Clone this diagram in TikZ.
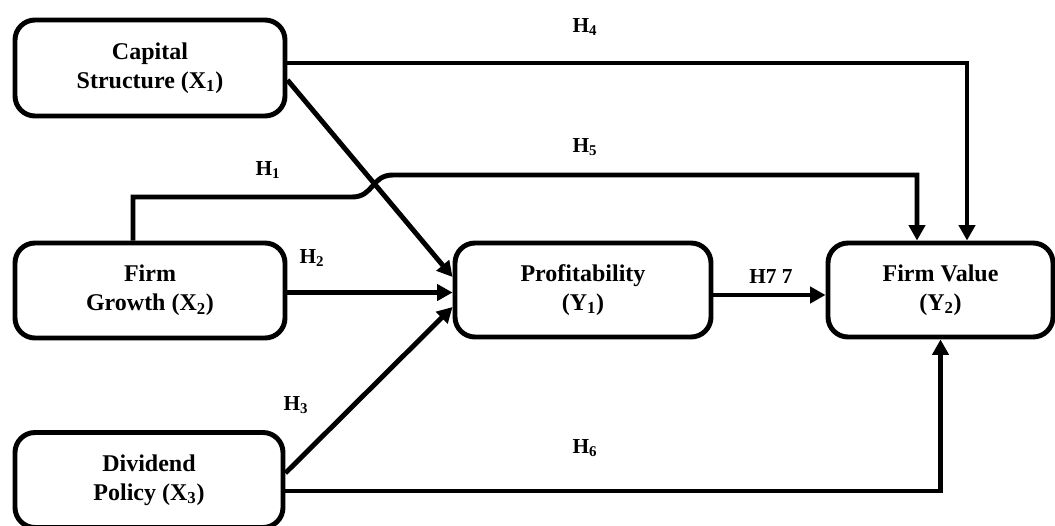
\documentclass[tikz,border=0pt]{standalone}
\usepackage{fontspec}
\setmainfont{Liberation Serif}
\usetikzlibrary{arrows.meta,calc}

\tikzset{every picture/.style={line width=0.75pt}}
\tikzset{
  varbox/.style={draw, line width=3.7pt, rounded corners=15pt, align=center,
    font=\bfseries\fontsize{18}{21.75}\selectfont, inner sep=0pt},
  pathline/.style={line width=3.7pt, -{Triangle[length=11.5pt,width=12pt]}},
  hyplabel/.style={font=\bfseries\fontsize{16}{19}\selectfont}
}

\begin{document}
\begin{tikzpicture}[x=0.75pt,y=0.75pt,yscale=-1,xscale=1]
\useasboundingbox (0,0) rectangle (1055,525);

%Shape: Rounded Rect [id:cap] 
\node [varbox, minimum width=202.5pt, minimum height=72pt] (cap) at (150,68) {Capital\\Structure (X\textsubscript{1})};
%Shape: Rounded Rect [id:grow] 
\node [varbox, minimum width=202.5pt, minimum height=71.25pt] (grow) at (150,290.5) {Firm\\Growth (X\textsubscript{2})};
%Shape: Rounded Rect [id:div] 
\node [varbox, minimum width=201pt, minimum height=71.25pt] (div) at (149,480) {Dividend\\Policy (X\textsubscript{3})};
%Shape: Rounded Rect [id:prof] 
\node [varbox, minimum width=192pt, minimum height=70.5pt] (prof) at (583,290) {Profitability\\(Y\textsubscript{1})};
%Shape: Rounded Rect [id:fv] 
\node [varbox, minimum width=168.75pt, minimum height=70.5pt] (fv) at (940.5,290) {Firm Value\\(Y\textsubscript{2})};

%Straight Lines [id:h1] 
\draw [pathline] ($(cap.east)+(0,12)$) -- ($(prof.west)+(0,-13)$) ;
%Straight Lines [id:h2] 
\draw [pathline] ($(grow.east)+(0,2)$) -- ($(prof.west)+(0,2.5)$) ;
%Straight Lines [id:h3] 
\draw [pathline] ($(div.east)+(0,-7)$) -- ($(prof.west)+(0,17)$) ;
%Straight Lines [id:h7] 
\draw [pathline] ($(prof.east)+(0,5)$) -- ($(fv.west)+(0,5)$) ;
%Straight Lines [id:h4] 
\draw [pathline] ($(cap.east)+(0,-5)$) -| ($(fv.north)+(26.5,0)$) ;
%Curve Lines [id:h5] 
\draw [pathline] ($(grow.north)+(-17,0)$) |- (352,197) .. controls (374,197) and (371,175) .. (393,175) -| ($(fv.north)+(-23.5,0)$) ;
%Straight Lines [id:h6] 
\draw [pathline] ($(div.east)+(0,11)$) -| (fv.south) ;

% Text Node
\node [hyplabel] (lh4) at (585,27) {H\textsubscript{4}};
% Text Node
\node [hyplabel] (lh5) at (585,147) {H\textsubscript{5}};
% Text Node
\node [hyplabel] (lh1) at (268,170) {H\textsubscript{1}};
% Text Node
\node [hyplabel] (lh2) at (312,258) {H\textsubscript{2}};
% Text Node
\node [hyplabel] (lh3) at (296,405) {H\textsubscript{3}};
% Text Node
\node [hyplabel] (lh6) at (585,448) {H\textsubscript{6}};
% Text Node
\node [hyplabel] (lh7) at (771,277) {H7 7};

\end{tikzpicture}
\end{document}
